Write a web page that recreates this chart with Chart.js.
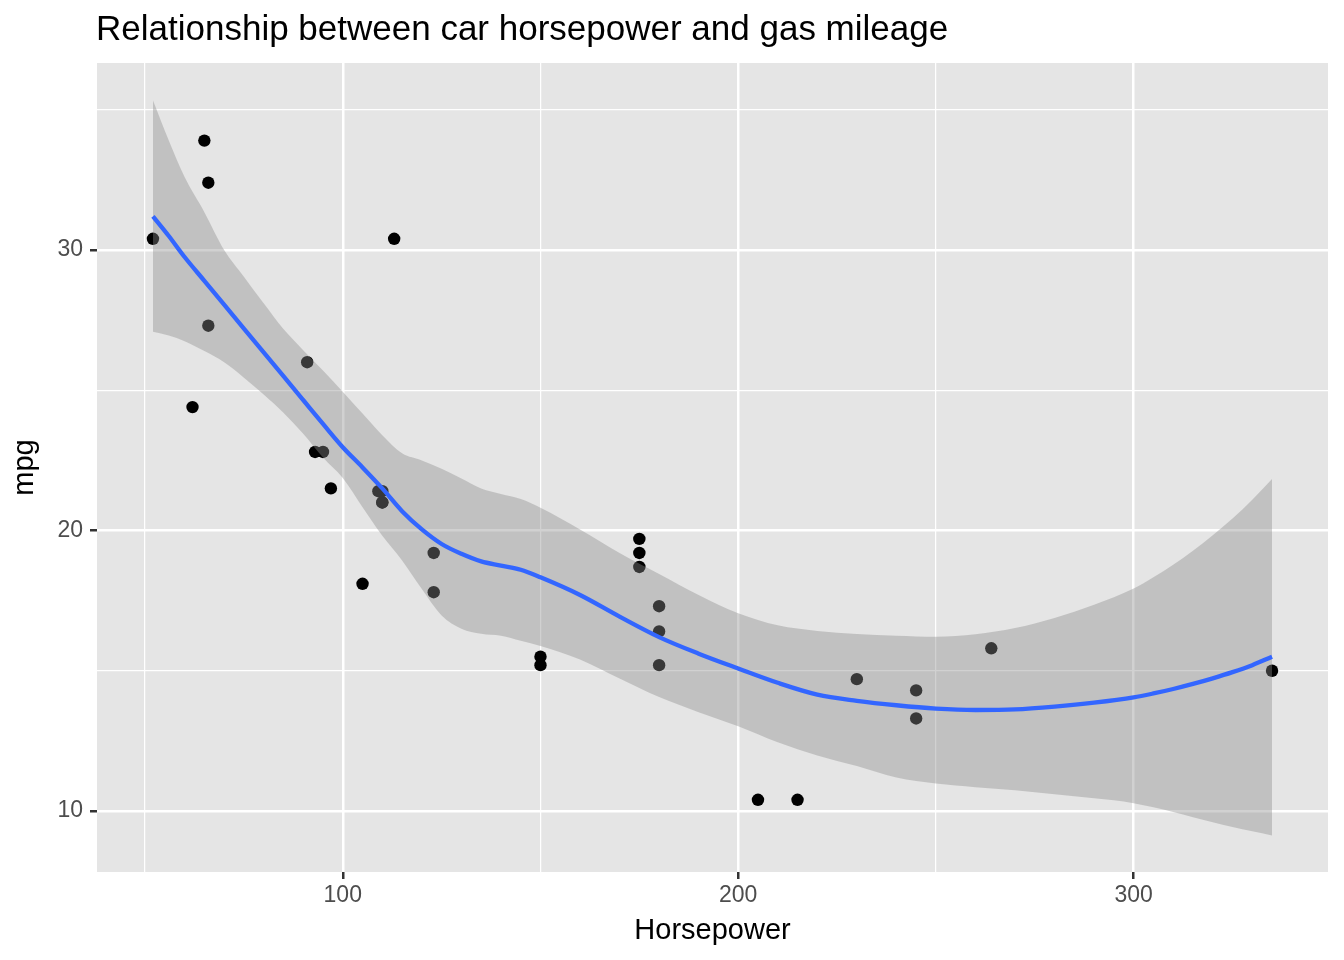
<!DOCTYPE html>
<html>
<head>
<meta charset="utf-8">
<script src="https://cdn.jsdelivr.net/npm/chart.js@4/dist/chart.umd.min.js"></script>
<style>
  html, body { margin: 0; padding: 0; background: #ffffff; }
  #wrap { width: 1344px; height: 960px; }
</style>
</head>
<body>
<div id="wrap"><canvas id="c" width="1344" height="960"></canvas></div>
<script>
// ---- data: mtcars horsepower vs mpg ----
const hp  = [110,110,93,110,175,105,245,62,95,123,123,180,180,180,205,215,230,66,52,65,97,150,150,245,175,66,91,113,264,175,335,109];
const mpg = [21.0,21.0,22.8,21.4,18.7,18.1,14.3,24.4,22.8,19.2,17.8,16.4,17.3,15.2,10.4,10.4,14.7,32.4,30.4,33.9,21.5,15.5,15.2,13.3,19.2,27.3,26.0,30.4,15.8,19.7,15.0,21.4];

// ---- smoother ----
const smoothHp    = [52,56,60,65,70,75,80,85,90,95,100,105,110,115,120,125,130,135,140,145,150,160,170,180,190,200,210,220,230,240,250,260,270,280,290,300,305,310,315,320,325,330,335];
const smoothFit   = [31.2,30.5,29.75,28.9,28.05,27.2,26.35,25.5,24.65,23.8,22.97,22.25,21.5,20.69,20.04,19.52,19.17,18.9,18.75,18.6,18.33,17.7,16.93,16.2,15.61,15.08,14.57,14.15,13.93,13.77,13.65,13.6,13.62,13.72,13.86,14.05,14.19,14.35,14.53,14.73,14.95,15.2,15.5];
const smoothUpper = [35.33,33.9,32.6,31.35,30.0,29.05,28.1,27.18,26.43,25.7,24.95,24.17,23.4,22.75,22.5,22.2,21.85,21.5,21.3,21.12,20.81,20.04,19.2,18.45,17.7,17.05,16.62,16.42,16.31,16.25,16.21,16.3,16.52,16.88,17.35,17.93,18.33,18.78,19.28,19.83,20.43,21.1,21.84];
const smoothLower = [27.09,26.95,26.75,26.4,26.0,25.45,24.85,24.2,23.45,22.6,21.87,20.83,19.81,18.93,17.91,16.97,16.5,16.32,16.25,16.07,15.88,15.40,14.72,14.06,13.52,13.02,12.45,11.98,11.6,11.19,10.98,10.85,10.74,10.6,10.45,10.28,10.13,9.96,9.78,9.6,9.43,9.28,9.13];

// ---- axes ----
const xTicks = [50,100,150,200,250,300];
const xMajor = [100,200,300];
const yTicks = [10,15,20,25,30,35];
const yMajor = [10,20,30];
const xRange = [37.85, 349.15];
const yRange = [7.825, 36.667];

const titleText = 'Relationship between car horsepower and gas mileage';
const xTitle = 'Horsepower';
const yTitle = 'mpg';

const FONT = '"Liberation Sans", Arial, Helvetica, sans-serif';

const pts = hp.map((h, i) => ({x: h, y: mpg[i]}));
const mk = arr => smoothHp.map((h, i) => ({x: h, y: arr[i]}));

const panelBg = {
  id: 'panelBg',
  beforeDraw(chart) {
    const {ctx, chartArea: a} = chart;
    ctx.save();
    ctx.fillStyle = '#E5E5E5';
    ctx.fillRect(a.left, a.top, a.right - a.left, a.bottom - a.top);
    ctx.restore();
  }
};
const plotTitle = {
  id: 'plotTitle',
  afterDraw(chart) {
    const ctx = chart.ctx;
    ctx.save();
    ctx.font = '35px ' + FONT;
    ctx.fillStyle = '#000000';
    ctx.textAlign = 'left';
    ctx.textBaseline = 'alphabetic';
    ctx.fillText(titleText, 96, 39.5);
    ctx.restore();
  }
};

function gridOpts(major) {
  return {
    color: '#FFFFFF',
    lineWidth: c => major.includes(c.tick && c.tick.value) ? 2.5 : 1.25,
    tickColor: c => major.includes(c.tick && c.tick.value) ? '#333333' : 'rgba(0,0,0,0)',
    tickWidth: 2.5,
    tickLength: 7,
    drawTicks: true,
    drawOnChartArea: true
  };
}

new Chart(document.getElementById('c'), {
  type: 'scatter',
  data: {
    datasets: [
      {
        type: 'scatter',
        data: pts,
        backgroundColor: '#000000',
        borderWidth: 0,
        pointRadius: 6.2,
        pointHoverRadius: 6.2,
        order: 4
      },
      {
        type: 'line',
        data: mk(smoothLower),
        borderWidth: 0,
        borderColor: 'rgba(0,0,0,0)',
        pointRadius: 0,
        fill: false,
        cubicInterpolationMode: 'monotone',
        order: 3
      },
      {
        type: 'line',
        data: mk(smoothUpper),
        borderWidth: 0,
        borderColor: 'rgba(0,0,0,0)',
        backgroundColor: 'rgba(140,140,140,0.4)',
        pointRadius: 0,
        fill: {target: 1},
        cubicInterpolationMode: 'monotone',
        order: 2
      },
      {
        type: 'line',
        data: mk(smoothFit),
        borderColor: '#3366FF',
        borderWidth: 4.3,
        pointRadius: 0,
        fill: false,
        cubicInterpolationMode: 'monotone',
        order: 1
      }
    ]
  },
  options: {
    responsive: false,
    devicePixelRatio: 1,
    animation: false,
    events: [],
    layout: { padding: { top: 63, right: 16, left: 0, bottom: 0 } },
    plugins: {
      legend: { display: false },
      tooltip: { enabled: false },
      title: { display: false }
    },
    scales: {
      x: {
        type: 'linear',
        position: 'bottom',
        min: xRange[0],
        max: xRange[1],
        afterBuildTicks: s => { s.ticks = xTicks.map(v => ({value: v})); },
        afterFit: s => { s.height = 88; },
        grid: gridOpts(xMajor),
        border: { display: false },
        ticks: {
          autoSkip: false,
          maxRotation: 0,
          padding: 3,
          color: '#4D4D4D',
          font: { family: FONT, size: 23 },
          callback: v => xMajor.includes(v) ? String(v) : ''
        },
        title: {
          display: true,
          text: xTitle,
          color: '#000000',
          font: { family: FONT, size: 29 },
          padding: { top: 0, bottom: 11.6 }
        }
      },
      y: {
        type: 'linear',
        position: 'left',
        min: yRange[0],
        max: yRange[1],
        afterBuildTicks: s => { s.ticks = yTicks.map(v => ({value: v})); },
        afterFit: s => { s.width = 97; },
        grid: gridOpts(yMajor),
        border: { display: false },
        ticks: {
          autoSkip: false,
          padding: 7,
          color: '#4D4D4D',
          font: { family: FONT, size: 23 },
          callback: v => yMajor.includes(v) ? String(v) : ''
        },
        title: {
          display: true,
          text: yTitle,
          color: '#000000',
          font: { family: FONT, size: 29 },
          padding: { top: 7.6, bottom: 0 }
        }
      }
    }
  },
  plugins: [panelBg, plotTitle]
});
</script>
</body>
</html>
